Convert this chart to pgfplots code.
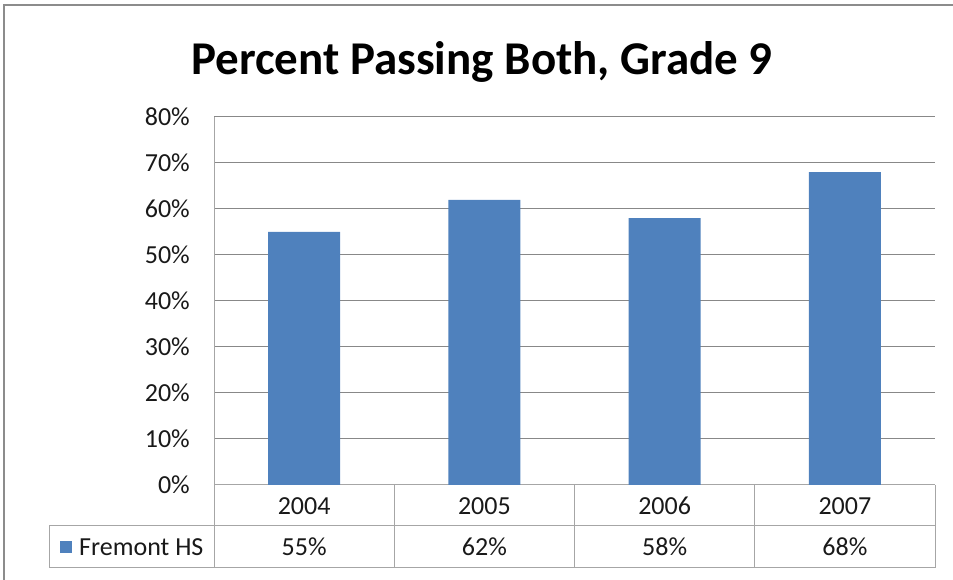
\documentclass[border=0pt]{standalone}
\usepackage{pgfplots}
\pgfplotsset{compat=1.18}
\usepackage{fontspec}
\setmainfont{Carlito}
\definecolor{barblue}{HTML}{4F81BD}
\definecolor{gridgray}{HTML}{888888}
\definecolor{tabgray}{HTML}{A6A6A6}
\definecolor{framegray}{HTML}{8C8C8C}
\begin{document}
\begin{tikzpicture}[x=1bp,y=1bp]
\path[use as bounding box] (0,0) rectangle (953,580);
% outer frame
\draw[framegray, line width=2bp] (4,0) -- (4,575) -- (953,575);
% title
\node[anchor=base, font=\fontsize{47bp}{50bp}\selectfont\bfseries] at (482,505) {Percent Passing Both, Grade 9};
\begin{axis}[
  at={(214bp,95bp)}, anchor=south west,
  scale only axis, width=721bp, height=368bp,
  ybar, bar width=72bp, bar shift=0pt,
  xmin=-0.5, xmax=3.5, ymin=0, ymax=80,
  xtick={0,1,2,3},
  xticklabels={{2004\\55\%},{2005\\62\%},{2006\\58\%},{2007\\68\%}},
  ytick={0,10,20,30,40,50,60,70,80},
  yticklabels={0\%,10\%,20\%,30\%,40\%,50\%,60\%,70\%,80\%},
  major tick length=0pt,
  axis x line*=bottom, axis y line*=left,
  axis line style={tabgray, line width=1bp, -},
  ymajorgrids, grid style={gridgray, line width=1bp},
  ticklabel style={font=\fontsize{26bp}{41bp}\selectfont, text=black!90},
  yticklabel style={anchor=east, inner sep=0pt, xshift=-24bp},
  xticklabel style={anchor=north, inner sep=0pt, yshift=-12bp, align=center},
]
\addplot[fill=barblue, draw=none] coordinates {(0,55) (1,62) (2,58) (3,68)};
\end{axis}
% data table grid
\draw[tabgray, line width=1bp] (49,54) -- (935,54);
\draw[tabgray, line width=1bp] (49,12) -- (935,12);
\draw[tabgray, line width=1bp] (49,12) -- (49,54);
\draw[tabgray, line width=1bp] (214,12) -- (214,95);
\draw[tabgray, line width=1bp] (394.25,12) -- (394.25,95);
\draw[tabgray, line width=1bp] (574.5,12) -- (574.5,95);
\draw[tabgray, line width=1bp] (754.75,12) -- (754.75,95);
\draw[tabgray, line width=1bp] (935,12) -- (935,95);
% legend key
\fill[barblue] (60,27) rectangle (72,39);
\node[anchor=west, inner sep=0pt, font=\fontsize{26bp}{30bp}\selectfont, text=black!90] at (79,33) {Fremont HS};
\end{tikzpicture}
\end{document}
